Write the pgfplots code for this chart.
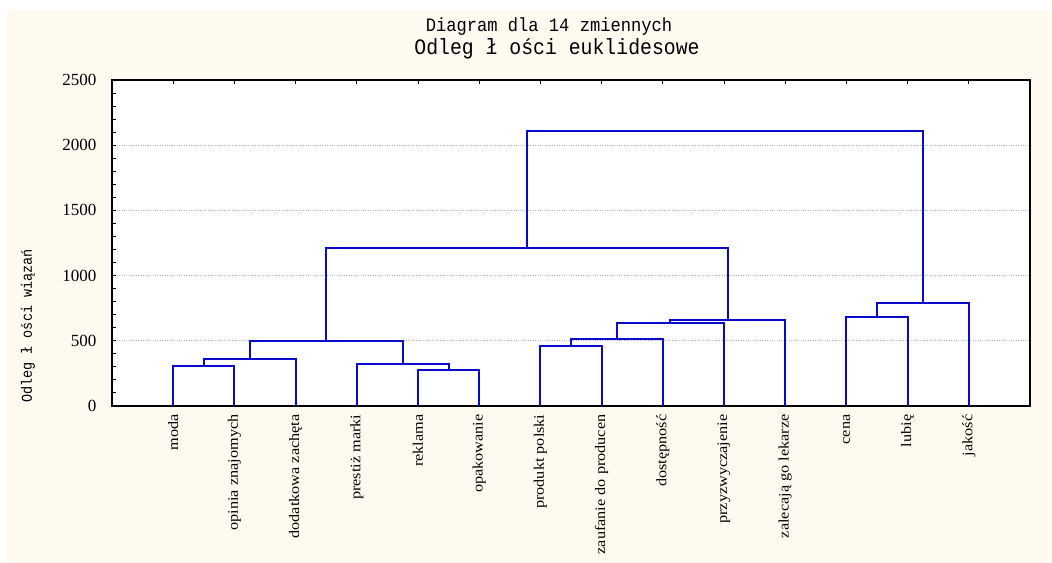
\documentclass[border=0pt]{standalone}
\usepackage{pgfplots}
\pgfplotsset{compat=1.18}
\usepackage{fontspec}
\setmainfont{Liberation Serif}
\newfontfamily\monofont[FakeStretch=0.9]{Liberation Mono}
\newfontfamily\lblfont[FakeStretch=1.12]{Liberation Serif}
\definecolor{cream}{RGB}{255,250,240}
\definecolor{dblue}{RGB}{10,10,205}
\pgfplotsset{dend/.style={dblue, line width=2bp, mark=none, solid}}
\begin{document}
\begin{tikzpicture}
\path[use as bounding box] (0,0) rectangle (1052bp,-563bp);
\fill[white] (0,0) rectangle (1052bp,-563bp);
\fill[cream] (7bp,-10bp) rectangle (1052bp,-563bp);
\begin{axis}[
  at={(112bp,-406bp)}, anchor=south west,
  scale only axis, width=918bp, height=326bp,
  xmin=0, xmax=15, ymin=0, ymax=2500,
  axis background/.style={fill=white},
  axis line style={black, line width=1.5bp},
  tick align=inside,
  xtick={1,...,14},
  xtick pos=upper, xticklabel pos=lower,
  xticklabels={moda, opinia znajomych, dodatkowa zachęta, prestiż marki, reklama, opakowanie, produkt polski, zaufanie do producen, dostępność, przyzwyczajenie, zalecają go lekarze, cena, lubię, jakość},
  xticklabel style={rotate=90, anchor=east, font=\lblfont\fontsize{14.5bp}{16bp}\selectfont},
  xticklabel shift=5bp,
  ytick={0,500,...,2500},
  ytick pos=left,
  minor y tick num=4,
  major tick length=4bp, minor tick length=4bp,
  every tick/.style={black, line width=1bp},
  yticklabel style={font=\fontsize{17bp}{20bp}\selectfont},
  yticklabel shift=12bp,
  /pgf/number format/assume math mode=true,
  /pgf/number format/1000 sep={},
  ymajorgrids,
  major grid style={gray!60, dotted, line width=1.2bp},
]
\addplot[dend] coordinates {(1,0) (1,309) (2,309) (2,0)};
\addplot[dend] coordinates {(1.5,309) (1.5,363) (3,363) (3,0)};
\addplot[dend] coordinates {(5,0) (5,276) (6,276) (6,0)};
\addplot[dend] coordinates {(4,0) (4,320) (5.5,320) (5.5,276)};
\addplot[dend] coordinates {(2.25,363) (2.25,501) (4.75,501) (4.75,320)};
\addplot[dend] coordinates {(7,0) (7,460) (8,460) (8,0)};
\addplot[dend] coordinates {(7.5,460) (7.5,516) (9,516) (9,0)};
\addplot[dend] coordinates {(8.25,516) (8.25,634) (10,634) (10,0)};
\addplot[dend] coordinates {(9.125,634) (9.125,657) (11,657) (11,0)};
\addplot[dend] coordinates {(3.5,501) (3.5,1212) (10.0625,1212) (10.0625,657)};
\addplot[dend] coordinates {(12,0) (12,685) (13,685) (13,0)};
\addplot[dend] coordinates {(12.5,685) (12.5,792) (14,792) (14,0)};
\addplot[dend] coordinates {(6.78125,1212) (6.78125,2107) (13.25,2107) (13.25,792)};
\end{axis}
\node at (549bp,-27bp) {\monofont\fontsize{19bp}{22bp}\selectfont Diagram dla 14 zmiennych};
\node at (557bp,-49bp) {\monofont\fontsize{22bp}{25bp}\selectfont Odleg ł ości euklidesowe};
\node[rotate=90] at (28bp,-326bp) {\monofont\fontsize{15bp}{18bp}\selectfont Odleg ł ości wiązań};
\end{tikzpicture}
\end{document}
